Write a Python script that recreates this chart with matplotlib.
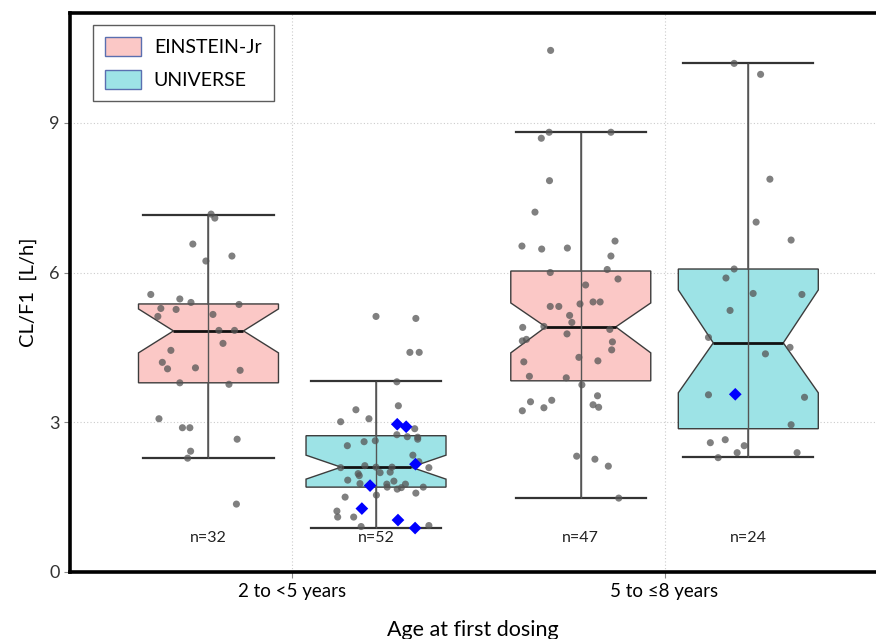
import matplotlib.pyplot as plt
from matplotlib.patches import Patch

# ---------------------------------------------------------------
# Data
# ---------------------------------------------------------------
age_groups = ["2 to <5 years", "5 to \u22648 years"]
studies = ["EINSTEIN-Jr", "UNIVERSE"]
n_labels = ["n=32", "n=52", "n=47", "n=24"]

# box statistics, order: EINSTEIN 2-5, UNIVERSE 2-5, EINSTEIN 5-8, UNIVERSE 5-8
q1 = [3.79, 1.70, 3.83, 2.87]
med = [4.83, 2.10, 4.91, 4.59]
q3 = [5.37, 2.73, 6.03, 6.07]
ci_lo = [4.39, 1.86, 4.39, 3.59]
ci_hi = [5.27, 2.34, 5.39, 5.65]
whisk_lo = [2.28, 0.88, 1.48, 2.30]
whisk_hi = [7.15, 3.83, 8.82, 10.20]

# individual observations (jitter = horizontal offset inside the box)
ein_young_y = [7.17, 7.09, 6.57, 6.33, 6.23, 5.56, 5.47, 5.40, 5.36, 5.28, 5.26, 5.12,
               5.16, 4.84, 4.84, 4.58, 4.44, 4.20, 4.07, 4.09, 4.04, 3.79, 3.76, 3.07,
               2.89, 2.89, 2.66, 2.42, 2.28, 1.36]
ein_young_j = [0.007, 0.017, -0.042, 0.063, -0.007, -0.155, -0.077, -0.047, 0.082, -0.128,
               -0.087, -0.136, 0.012, 0.028, 0.070, 0.039, -0.101, -0.124, -0.110, -0.035,
               0.085, -0.077, 0.055, -0.133, -0.070, -0.050, 0.077, -0.048, -0.056, 0.075]

uni_young_y = [5.12, 5.08, 4.40, 4.40, 3.81, 3.25, 3.33, 3.01, 3.07, 2.87, 2.75, 2.71,
               2.70, 2.66, 2.53, 2.61, 2.63, 2.34, 2.21, 2.09, 2.09, 2.13, 2.10, 2.10,
               1.97, 1.93, 1.99, 2.00, 1.84, 1.82, 1.77, 1.76, 1.70, 1.66, 1.69, 1.76,
               1.70, 1.58, 1.54, 1.50, 1.22, 1.10, 1.10, 0.91, 0.93]
uni_young_j = [0.000, 0.107, 0.091, 0.116, 0.056, -0.054, 0.060, -0.095, -0.019, 0.104,
               0.056, 0.084, 0.112, 0.112, -0.077, -0.032, -0.002, 0.099, 0.115, 0.142,
               -0.095, -0.030, 0.000, 0.043, -0.048, -0.045, 0.011, 0.038, -0.076, 0.048,
               -0.043, 0.029, 0.030, 0.057, 0.068, 0.079, 0.127, 0.107, 0.001, -0.083,
               -0.105, -0.103, -0.060, -0.040, 0.142]
uni_young_hl_y = [2.96, 2.91, 2.16, 1.73, 1.27, 1.04, 0.88]
uni_young_hl_j = [0.057, 0.081, 0.106, -0.016, -0.038, 0.059, 0.105]

ein_old_y = [10.45, 8.81, 8.81, 8.69, 7.84, 7.21, 6.53, 6.47, 6.49, 6.63, 6.33, 6.06,
             6.00, 5.87, 5.75, 5.32, 5.32, 5.37, 5.41, 5.41, 5.14, 5.00, 4.90, 4.92,
             4.86, 4.63, 4.66, 4.77, 4.61, 4.45, 4.21, 4.30, 4.23, 3.92, 3.89, 3.75,
             3.53, 3.41, 3.44, 3.23, 3.29, 3.35, 3.30, 2.32, 2.26, 2.12, 1.48]
ein_old_j = [-0.081, -0.085, 0.081, -0.106, -0.084, -0.123, -0.158, -0.105, -0.036, 0.092,
             0.081, 0.071, -0.082, 0.100, 0.013, -0.082, -0.059, -0.002, 0.033, 0.052,
             -0.030, -0.024, -0.156, -0.099, 0.078, -0.157, -0.146, -0.037, 0.085, 0.083,
             -0.153, -0.005, 0.046, -0.138, -0.039, 0.003, 0.045, -0.135, -0.078, -0.157,
             -0.099, 0.033, 0.048, -0.011, 0.038, 0.074, 0.102]

uni_old_y = [10.19, 9.97, 7.87, 7.01, 6.65, 6.07, 5.89, 5.58, 5.56, 5.24, 4.70, 4.50,
             4.37, 3.55, 3.50, 2.95, 2.59, 2.65, 2.53, 2.39, 2.39, 2.29]
uni_old_j = [-0.038, 0.033, 0.058, 0.021, 0.115, -0.038, -0.060, 0.013, 0.144, -0.049,
             -0.107, 0.112, 0.046, -0.107, 0.151, 0.115, -0.102, -0.062, -0.011, -0.030,
             0.131, -0.081]
uni_old_hl_y = [3.56]
uni_old_hl_j = [-0.035]

# ---------------------------------------------------------------
# Style
# ---------------------------------------------------------------
FILL = {"EINSTEIN-Jr": "#FBC8C6", "UNIVERSE": "#9DE3E6"}
EDGE = "#3C3C3C"
POINT = "#555555"
HIGHLIGHT = "#0000FF"
DODGE = 0.225
BOX_W = 0.376

plt.rcParams["font.family"] = ["Lato", "DejaVu Sans"]


def draw_boxes(ax, positions, colors):
    stats = []
    for i in range(len(positions)):
        stats.append(dict(med=med[i], q1=q1[i], q3=q3[i], cilo=ci_lo[i], cihi=ci_hi[i],
                          whislo=whisk_lo[i], whishi=whisk_hi[i], fliers=[]))
    bp = ax.bxp(stats, positions=positions, widths=BOX_W, capwidths=BOX_W * 0.93,
                shownotches=True, patch_artist=True, showfliers=False,
                boxprops=dict(edgecolor=EDGE, linewidth=1.0),
                medianprops=dict(color="#111111", linewidth=2.0),
                whiskerprops=dict(color="#555555", linewidth=1.1),
                capprops=dict(color="#333333", linewidth=1.6))
    for patch, c in zip(bp["boxes"], colors):
        patch.set_facecolor(c)
        patch.set_zorder(2)
    # whisker line continues through the box
    ax.vlines(positions, whisk_lo, whisk_hi, color="#555555", linewidth=1.0, zorder=3)


def draw_points(ax, center, ys, jit, hl_ys=None, hl_jit=None):
    xs = [center + j for j in jit]
    ax.scatter(xs, ys, s=26, color=POINT, alpha=0.75, edgecolors="none", zorder=4)
    if hl_ys:
        hx = [center + j for j in hl_jit]
        ax.scatter(hx, hl_ys, s=42, marker="D", color=HIGHLIGHT, edgecolors="none", zorder=5)


def main():
    fig = plt.figure(figsize=(8.76, 6.39), dpi=100)
    ax = fig.add_axes([0.0799, 0.1049, 0.9201, 0.8748])

    cats = [1, 2]
    positions = [cats[0] - DODGE, cats[0] + DODGE, cats[1] - DODGE, cats[1] + DODGE]
    colors = [FILL[studies[0]], FILL[studies[1]], FILL[studies[0]], FILL[studies[1]]]

    draw_boxes(ax, positions, colors)
    draw_points(ax, positions[0], ein_young_y, ein_young_j)
    draw_points(ax, positions[1], uni_young_y, uni_young_j, uni_young_hl_y, uni_young_hl_j)
    draw_points(ax, positions[2], ein_old_y, ein_old_j)
    draw_points(ax, positions[3], uni_old_y, uni_old_j, uni_old_hl_y, uni_old_hl_j)

    for p, lab in zip(positions, n_labels):
        ax.text(p, 0.68, lab, ha="center", va="center", fontsize=11.5, color="#222222")

    ax.set_xlim(0.403, 2.568)
    ax.set_ylim(0, 11.2)
    ax.set_xticks(cats)
    ax.set_xticklabels(age_groups, fontsize=13.5)
    ax.set_yticks([0, 3, 6, 9])
    ax.tick_params(axis="y", labelsize=13, labelcolor="#333333", color="#888888", length=4)
    ax.tick_params(axis="x", color="#888888", length=4, pad=4)

    ax.grid(True, linestyle=(0, (1, 2)), color="#CCCCCC", linewidth=0.8, zorder=0)
    ax.set_axisbelow(True)

    for side in ["left", "bottom", "top"]:
        ax.spines[side].set_linewidth(2.6)
        ax.spines[side].set_color("black")
    ax.spines["right"].set_visible(False)

    ax.set_xlabel("Age at first dosing", fontsize=15.5, labelpad=14)
    ax.set_ylabel("CL/F1  [L/h]", fontsize=14.5, labelpad=9)

    handles = [Patch(facecolor=FILL[s], edgecolor="#5A6FB0", linewidth=1.0) for s in studies]
    leg = ax.legend(handles, studies, loc="upper left", bbox_to_anchor=(0.028, 0.979),
                    borderaxespad=0, fontsize=14, frameon=True, fancybox=False,
                    borderpad=0.65, handlelength=1.85, handleheight=1.1, handletextpad=0.65,
                    labelspacing=0.7)
    leg.get_frame().set_edgecolor("#333333")
    leg.get_frame().set_linewidth(1.0)

    fig.savefig("out.png", dpi=100)


if __name__ == "__main__":
    main()
